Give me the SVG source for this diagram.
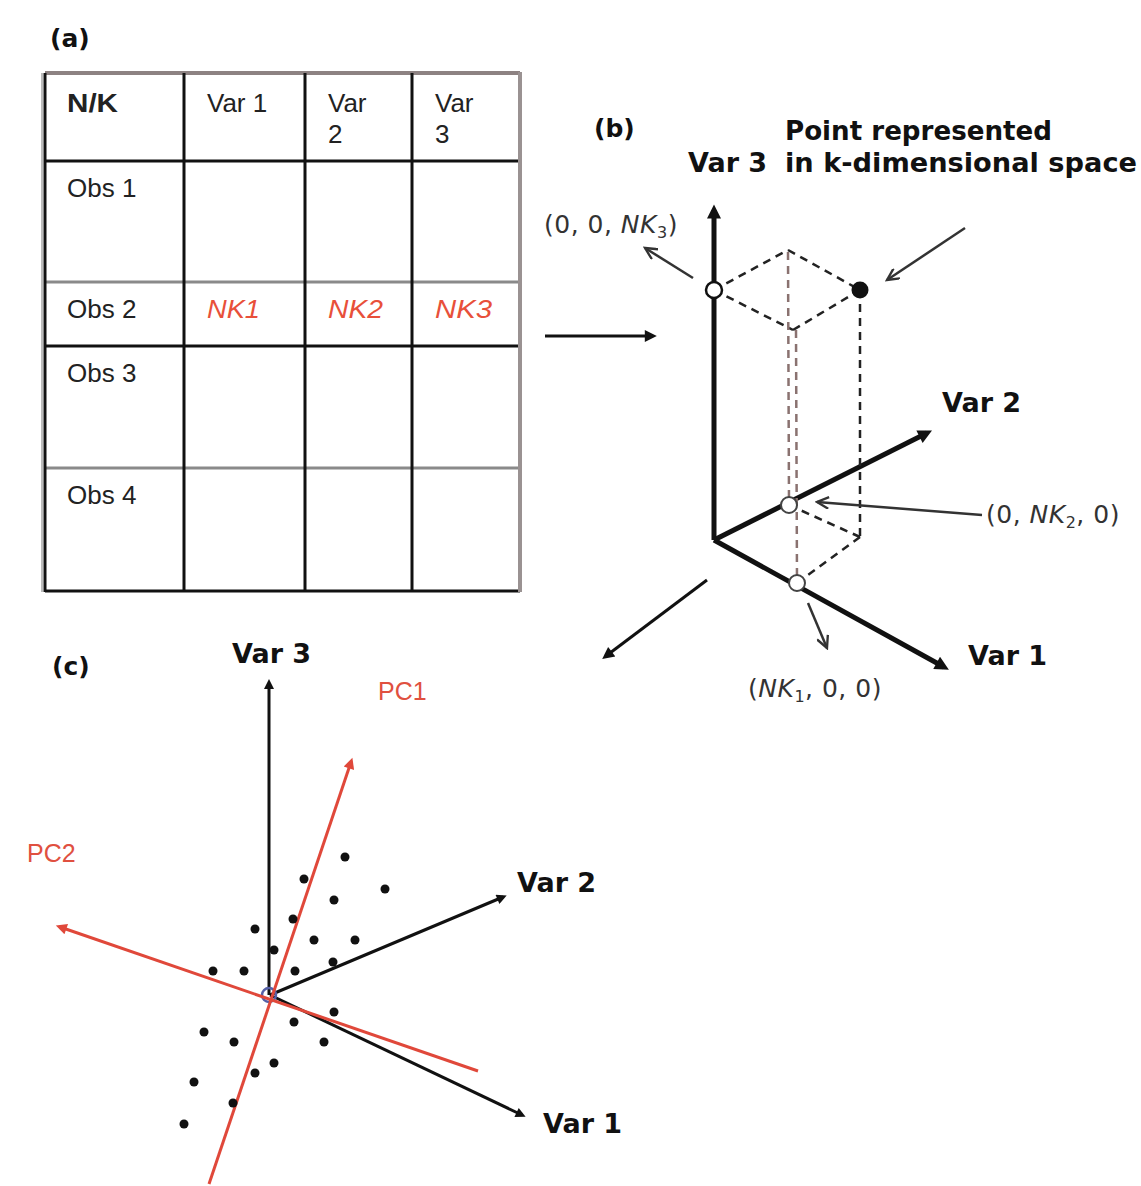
<svg xmlns="http://www.w3.org/2000/svg" width="1141" height="1186" viewBox="0 0 1141 1186">
<style>
.tb{font-family:"Liberation Sans",Arial,sans-serif;font-size:26px;fill:#222}
.nk{font-family:"Liberation Sans",Arial,sans-serif;font-size:26px;font-style:italic;fill:#e8503a}
.lb{font-family:"DejaVu Sans",Verdana,sans-serif;font-weight:bold;font-size:27px;fill:#111}
.pl{font-family:"DejaVu Sans",Verdana,sans-serif;font-weight:bold;font-size:25px;fill:#111}
.co{font-family:"DejaVu Sans",Verdana,sans-serif;font-size:25px;letter-spacing:0.5px;fill:#333}
.pc{font-family:"Liberation Sans",Arial,sans-serif;font-size:25px;fill:#e05040}
.gl{stroke:#111;stroke-width:3}
.gg{stroke:#8a8a8a;stroke-width:3}
.ax{stroke:#111;stroke-width:5;fill:none}
.ax2{stroke:#111;stroke-width:3;fill:none}
.red{stroke:#e0483a;stroke-width:3;fill:none}
.dk{stroke:#222;stroke-width:2.5;stroke-dasharray:8 6;fill:none}
.db{stroke:#8a7270;stroke-width:2.5;stroke-dasharray:8 6;fill:none}
.la{stroke:#333;stroke-width:2.5;fill:none}
.dot{fill:#111}
</style>
<defs>
<marker id="ahB" viewBox="0 0 10 10" refX="6" refY="5" markerUnits="userSpaceOnUse" markerWidth="18" markerHeight="14" orient="auto"><path d="M0,0 L10,5 L0,10 z" fill="#111"/></marker>
<marker id="ahM" viewBox="0 0 10 10" refX="6" refY="5" markerUnits="userSpaceOnUse" markerWidth="16" markerHeight="12" orient="auto"><path d="M0,0 L10,5 L0,10 z" fill="#111"/></marker>
<marker id="ahS" viewBox="0 0 10 10" refX="6" refY="5" markerUnits="userSpaceOnUse" markerWidth="13" markerHeight="10" orient="auto"><path d="M0,0 L10,5 L0,10 z" fill="#111"/></marker>
<marker id="ahR" viewBox="0 0 10 10" refX="6" refY="5" markerUnits="userSpaceOnUse" markerWidth="14" markerHeight="11" orient="auto"><path d="M0,0 L10,5 L0,10 z" fill="#e0483a"/></marker>
<marker id="ahV" viewBox="0 0 10 10" refX="9" refY="5" markerUnits="userSpaceOnUse" markerWidth="15" markerHeight="13" orient="auto"><path d="M0,0.5 L9,5 L0,9.5" fill="none" stroke="#333" stroke-width="1.8"/></marker>
</defs>

<g id="panel-a">
<text class="pl" x="50" y="47">(a)</text>
<g id="table">
<line x1="45" y1="73" x2="520" y2="73" stroke="#8d8282" stroke-width="4"/>
<line class="gl" x1="45" y1="161" x2="520" y2="161"/>
<line class="gg" x1="45" y1="282" x2="520" y2="282"/>
<line class="gl" x1="45" y1="346" x2="520" y2="346"/>
<line class="gg" x1="45" y1="468" x2="520" y2="468" stroke-width="4"/>
<line class="gl" x1="45" y1="591" x2="520" y2="591"/>
<line x1="42" y1="73" x2="42" y2="592" stroke="#bbb" stroke-width="2"/>
<line class="gl" x1="45" y1="73" x2="45" y2="592"/>
<line class="gl" x1="184" y1="73" x2="184" y2="591"/>
<line class="gl" x1="305" y1="73" x2="305" y2="591"/>
<line class="gl" x1="412" y1="73" x2="412" y2="591"/>
<line x1="520" y1="72" x2="520" y2="592" stroke="#9a9292" stroke-width="4"/>
<text class="tb" x="67" y="112" font-weight="bold" textLength="51" lengthAdjust="spacingAndGlyphs">N/K</text>
<text class="tb" x="207" y="112">Var 1</text>
<text class="tb" x="328" y="112">Var</text>
<text class="tb" x="328" y="143">2</text>
<text class="tb" x="435" y="112">Var</text>
<text class="tb" x="435" y="143">3</text>
<text class="tb" x="67" y="197">Obs 1</text>
<text class="tb" x="67" y="318">Obs 2</text>
<text class="nk" x="207" y="318" textLength="53" lengthAdjust="spacingAndGlyphs">NK1</text>
<text class="nk" x="328" y="318" textLength="55" lengthAdjust="spacingAndGlyphs">NK2</text>
<text class="nk" x="435" y="318" textLength="57" lengthAdjust="spacingAndGlyphs">NK3</text>
<text class="tb" x="67" y="382">Obs 3</text>
<text class="tb" x="67" y="504">Obs 4</text>
</g>
</g>

<g id="panel-b">
<text class="pl" x="594" y="137">(b)</text>
<text class="lb" x="688" y="172">Var 3</text>
<text class="lb" x="785" y="140" textLength="267" lengthAdjust="spacingAndGlyphs">Point represented</text>
<text class="lb" x="785" y="172" textLength="352" lengthAdjust="spacingAndGlyphs">in k-dimensional space</text>
<text class="lb" x="942" y="412">Var 2</text>
<text class="lb" x="968" y="665">Var 1</text>
<text class="co" x="544" y="233">(0, 0, <tspan font-style="italic">NK</tspan><tspan dy="5" font-size="16">3</tspan><tspan dy="-5">)</tspan></text>
<text class="co" x="986" y="523">(0, <tspan font-style="italic">NK</tspan><tspan dy="5" font-size="16">2</tspan><tspan dy="-5">, 0)</tspan></text>
<text class="co" x="748" y="697">(<tspan font-style="italic">NK</tspan><tspan dy="5" font-size="16">1</tspan><tspan dy="-5">, 0, 0)</tspan></text>
<g id="b-axes">
<line class="ax" x1="714" y1="540" x2="714" y2="210" marker-end="url(#ahB)"/>
<line class="ax" x1="714" y1="540" x2="927" y2="433" marker-end="url(#ahB)"/>
<line class="ax" x1="714" y1="540" x2="944" y2="667" marker-end="url(#ahB)"/>
<line class="ax2" x1="707" y1="580" x2="606" y2="656" stroke-width="3.5" marker-end="url(#ahM)"/>
</g>
<g id="b-dashes">
<line class="dk" x1="714" y1="290" x2="788" y2="250"/>
<line class="dk" x1="788" y1="250" x2="860" y2="290"/>
<line class="dk" x1="714" y1="290" x2="793" y2="330"/>
<line class="dk" x1="793" y1="330" x2="860" y2="290"/>
<line class="db" x1="788" y1="252" x2="789" y2="505"/>
<line class="db" x1="796" y1="330" x2="797" y2="583"/>
<line class="dk" x1="860" y1="290" x2="860" y2="537"/>
<line class="dk" x1="789" y1="505" x2="860" y2="537"/>
<line class="dk" x1="860" y1="537" x2="797" y2="583"/>
</g>
<g id="b-points">
<circle cx="714" cy="290" r="8" fill="#fff" stroke="#111" stroke-width="2.5"/>
<circle cx="860" cy="290" r="8.5" fill="#111"/>
<circle cx="789" cy="505" r="8" fill="#fff" stroke="#444" stroke-width="2"/>
<circle cx="797" cy="583" r="8" fill="#fff" stroke="#444" stroke-width="2"/>
</g>
</g>

<g id="panel-c">
<text class="pl" x="52" y="675">(c)</text>
<text class="lb" x="232" y="663">Var 3</text>
<text class="lb" x="517" y="892">Var 2</text>
<text class="lb" x="543" y="1133">Var 1</text>
<text class="pc" x="378" y="700">PC1</text>
<text class="pc" x="27" y="862">PC2</text>
<g id="c-axes">
<line class="ax2" x1="269" y1="995" x2="269" y2="683" marker-end="url(#ahS)"/>
<line class="ax2" x1="270" y1="995" x2="503" y2="897" marker-end="url(#ahS)"/>
<line class="ax2" x1="270" y1="995" x2="522" y2="1115" marker-end="url(#ahS)"/>
<circle cx="269" cy="995" r="7" fill="none" stroke="#5560a8" stroke-width="2.5"/>
<line class="red" x1="209" y1="1184" x2="351" y2="762" marker-end="url(#ahR)"/>
<line class="red" x1="478" y1="1071" x2="60" y2="927" marker-end="url(#ahR)"/>
</g>
<g id="c-dots">
<circle class="dot" cx="345" cy="857" r="4.5"/>
<circle class="dot" cx="385" cy="889" r="4.5"/>
<circle class="dot" cx="304" cy="879" r="4.5"/>
<circle class="dot" cx="334" cy="900" r="4.5"/>
<circle class="dot" cx="293" cy="919" r="4.5"/>
<circle class="dot" cx="255" cy="929" r="4.5"/>
<circle class="dot" cx="314" cy="940" r="4.5"/>
<circle class="dot" cx="355" cy="940" r="4.5"/>
<circle class="dot" cx="274" cy="950" r="4.5"/>
<circle class="dot" cx="333" cy="962" r="4.5"/>
<circle class="dot" cx="213" cy="971" r="4.5"/>
<circle class="dot" cx="244" cy="971" r="4.5"/>
<circle class="dot" cx="295" cy="971" r="4.5"/>
<circle class="dot" cx="334" cy="1012" r="4.5"/>
<circle class="dot" cx="294" cy="1022" r="4.5"/>
<circle class="dot" cx="204" cy="1032" r="4.5"/>
<circle class="dot" cx="234" cy="1042" r="4.5"/>
<circle class="dot" cx="324" cy="1042" r="4.5"/>
<circle class="dot" cx="274" cy="1063" r="4.5"/>
<circle class="dot" cx="255" cy="1073" r="4.5"/>
<circle class="dot" cx="194" cy="1082" r="4.5"/>
<circle class="dot" cx="233" cy="1103" r="4.5"/>
<circle class="dot" cx="184" cy="1124" r="4.5"/>
</g>
</g>

<g id="connectors">
<line class="ax2" x1="545" y1="336" x2="652" y2="336" marker-end="url(#ahM)"/>
<line class="la" x1="693" y1="278" x2="645" y2="248" stroke-width="3" marker-end="url(#ahV)"/>
<line class="la" x1="965" y1="228" x2="887" y2="280" stroke-width="3" marker-end="url(#ahV)"/>
<line class="la" x1="982" y1="515" x2="817" y2="502" marker-end="url(#ahV)"/>
<line class="la" x1="808" y1="603" x2="827" y2="648" marker-end="url(#ahV)"/>
</g>
</svg>
